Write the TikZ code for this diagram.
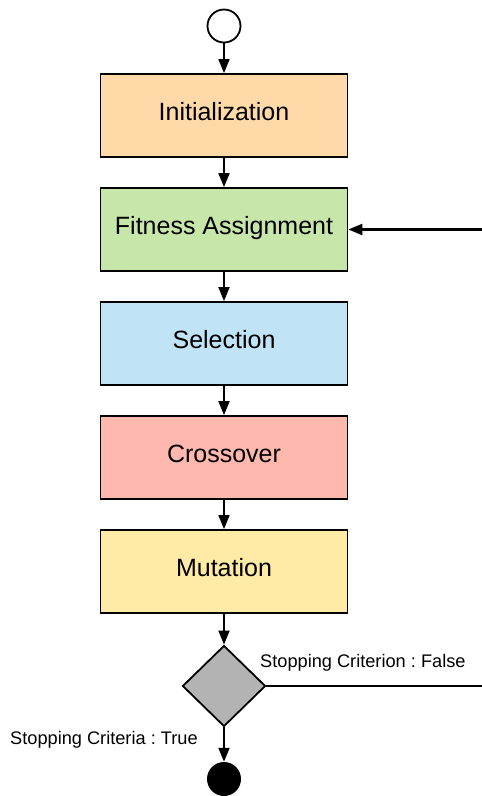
\documentclass[tikz,border=0pt]{standalone}
\usepackage{fontspec}
\setmainfont{Liberation Sans}
\usetikzlibrary{shapes.geometric,arrows.meta}

\definecolor{initfill}{HTML}{FFDAA8}
\definecolor{fitfill}{HTML}{C7E6AA}
\definecolor{selfill}{HTML}{C0E3F5}
\definecolor{crossfill}{HTML}{FFB8AE}
\definecolor{mutfill}{HTML}{FFEBA6}
\definecolor{decfill}{HTML}{B3B3B3}

\begin{document}
\frenchspacing
\begin{tikzpicture}[x=1pt,y=-1pt,
        stage/.style={draw,line width=1.8pt,minimum width=247pt,minimum height=83pt,
            text height=18pt,text depth=7.6pt,font=\fontsize{25}{29}\selectfont},
        flow/.style={line width=1.8pt,-{Triangle[length=14pt,width=11pt]}},
        note/.style={font=\fontsize{18.2}{21}\selectfont,inner sep=0pt}]
    \useasboundingbox (0,0) rectangle (482,796);

    % start and end states
    \node (start)[draw,circle,line width=1.8pt,fill=white,minimum size=33pt,inner sep=0pt] at (224,26) {};
    \node (stop)[circle,fill=black,minimum size=34pt,inner sep=0pt] at (224,779) {};

    % the stages of one generation
    \node (init)[stage,fill=initfill] at (224,115.5) {Initialization};
    \node (fitness)[stage,fill=fitfill] at (224,229.5) {Fitness Assignment};
    \node (select)[stage,fill=selfill] at (224,343.5) {Selection};
    \node (cross)[stage,fill=crossfill] at (224,457.5) {Crossover};
    \node (mutate)[stage,fill=mutfill] at (224,571.5) {Mutation};

    \node (decide)[draw,diamond,line width=1.8pt,fill=decfill,minimum width=83pt,minimum height=81pt,inner sep=0pt] at (224,686) {};

    \coordinate (loopin) at (482,229.5);
    \coordinate (loopout) at (482,686);

    \draw[flow] (start) -- (init);
    \draw[flow] (init) -- (fitness);
    \draw[flow] (fitness) -- (select);
    \draw[flow] (select) -- (cross);
    \draw[flow] (cross) -- (mutate);
    \draw[flow] (mutate) -- (decide);
    \draw[flow] (decide) -- (stop);

    % back to fitness while not done
    \draw[line width=1.8pt] (decide.east) -- (loopout);
    \draw[flow,line width=2.2pt] (loopin) -- (fitness.east);

    \node (falsetxt)[note,anchor=base west] at (260,667) {Stopping Criterion : False};
    \node (truetxt)[note,anchor=base west] at (10,744) {Stopping Criteria : True};
\end{tikzpicture}
\end{document}
